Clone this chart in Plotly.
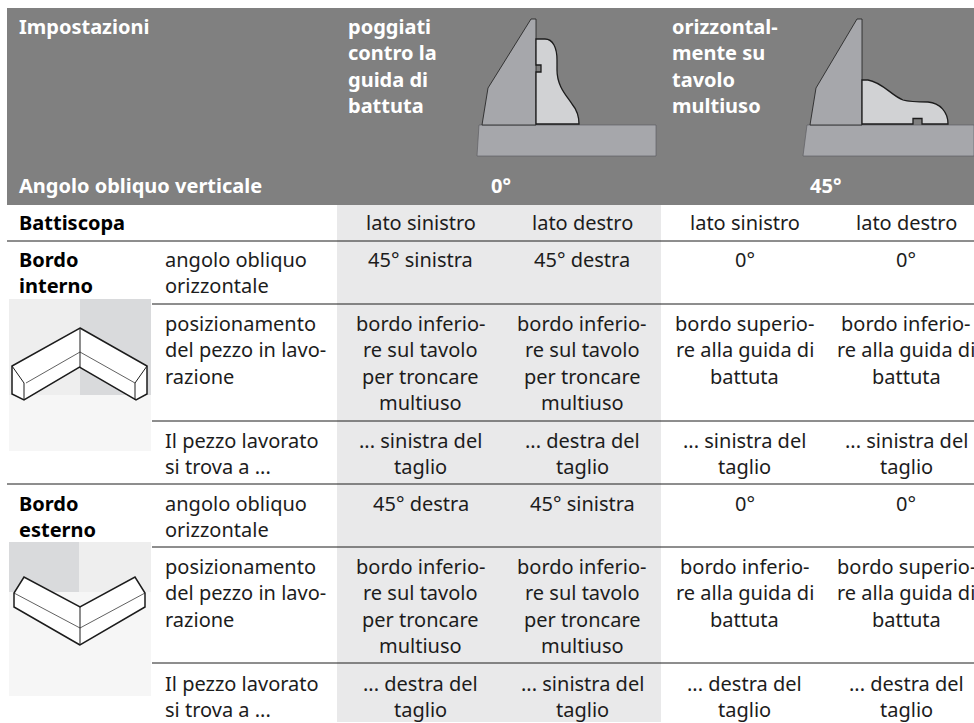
import plotly.graph_objects as go

FONT = "Noto Sans"
TXT = "#1c1c1c"
HEAD_BG = "#808080"
COL_BG = "#e9e9ea"
TOOL = "#a6a7ab"
PROFILE = "#d1d2d4"
LINE = "#1c1c1c"
SIZE = 20

# text content
header_left = [("Impostazioni", 18, 26), ("Angolo obliquo verticale", 18, 185)]
header_col1 = ["poggiati", "contro la", "guida di", "battuta"]
header_col2 = ["orizzontal-", "mente su", "tavolo", "multiuso"]
header_angles = [("0°", 501), ("45°", 825)]
col_centers = [420.5, 582, 744.5, 906]

rows = [
    (222, ["lato sinistro"], ["lato destro"], ["lato sinistro"], ["lato destro"]),
    (259, ["45° sinistra"], ["45° destra"], ["0°"], ["0°"]),
    (323, ["bordo inferio-", "re sul tavolo", "per troncare", "multiuso"],
          ["bordo inferio-", "re sul tavolo", "per troncare", "multiuso"],
          ["bordo superio-", "re alla guida di", "battuta"],
          ["bordo inferio-", "re alla guida di", "battuta"]),
    (440, ["... sinistra del", "taglio"], ["... destra del", "taglio"],
          ["... sinistra del", "taglio"], ["... sinistra del", "taglio"]),
    (503, ["45° destra"], ["45° sinistra"], ["0°"], ["0°"]),
    (566, ["bordo inferio-", "re sul tavolo", "per troncare", "multiuso"],
          ["bordo inferio-", "re sul tavolo", "per troncare", "multiuso"],
          ["bordo inferio-", "re alla guida di", "battuta"],
          ["bordo superio-", "re alla guida di", "battuta"]),
    (683, ["... destra del", "taglio"], ["... sinistra del", "taglio"],
          ["... destra del", "taglio"], ["... destra del", "taglio"]),
]
row_bold = [("Battiscopa", 222), ("Bordo", 259), ("interno", 285), ("Bordo", 503), ("esterno", 529)]
row_labels = [
    (259, ["angolo obliquo", "orizzontale"]),
    (323, ["posizionamento", "del pezzo in lavo-", "razione"]),
    (440, ["Il pezzo lavorato", "si trova a ..."]),
    (503, ["angolo obliquo", "orizzontale"]),
    (566, ["posizionamento", "del pezzo in lavo-", "razione"]),
    (683, ["Il pezzo lavorato", "si trova a ..."]),
]
full_rules = [241, 484]
part_rules = [304, 421, 547, 663]
LH = 26.5

fig = go.Figure()
shapes, ann = [], []


def rect(x0, y0, x1, y1, color):
    shapes.append(dict(type="rect", x0=x0, y0=y0, x1=x1, y1=y1,
                       fillcolor=color, line_width=0, layer="below"))


def path(d, fill=None, color=LINE, width=1.5):
    shapes.append(dict(type="path", path=d, fillcolor=fill or "rgba(0,0,0,0)",
                       line=dict(color=color, width=width), layer="above"))


def text(s, x, y, size=SIZE, bold=False, color=TXT, anchor="left"):
    ann.append(dict(x=x, y=y, text=f"<b>{s}</b>" if bold else s, showarrow=False,
                    xanchor=anchor, yanchor="middle", borderpad=0,
                    font=dict(family=FONT, size=size, color=color)))


rect(7, 8, 974, 205, HEAD_BG)
rect(337, 205, 661, 722, COL_BG)

for y in full_rules:
    shapes.append(dict(type="line", x0=7, x1=974, y0=y, y1=y, line=dict(color=LINE, width=1)))
for y in part_rules:
    shapes.append(dict(type="line", x0=152, x1=974, y0=y, y1=y, line=dict(color=LINE, width=1)))

# machine diagrams in the header
path("M479,125 L656,125 L656,156 L477,156 Z", TOOL, "#55565a", 0.6)
path("M531,19 L536,19 L536,125 L482,125 L488,88 Z", TOOL, LINE, 0.8)
path("M536,39 L545,39 C553,39 557,48 557,60 L557,70 C557,86 566,95 572,104 "
     "C577,110 579,116 579,124 L536,124 L536,72 L541,72 L541,65 L536,65 Z", PROFILE, LINE, 1.3)
path("M807,125 L974,125 L974,156 L803,156 Z", TOOL, "#55565a", 0.6)
path("M857,19 L862,19 L862,125 L810,125 L816,88 Z", TOOL, LINE, 0.8)
path("M862,80 L868,80 C882,82 892,96 903,100 C910,102 920,102 928,102 "
     "C940,103 948,112 948,124 L922,124 L922,118.5 L913,118.5 L913,124 L862,124 Z",
     PROFILE, LINE, 1.3)

# inner corner illustration
rect(9, 299, 80, 395, "#eeeeee")
rect(80, 299, 151, 395, "#d9dadc")
rect(9, 395, 151, 451, "#f6f6f6")
path("M80,328 L147,366 L147,394 L136,400 L79.5,367 L24,400 L12,394 L12,366 Z", "#ffffff", LINE, 1.5)
path("M80,328 L80,367 M12,366 L24,383 L24,400 M147,366 L135,383 L135,400", None, LINE, 1)
path("M80,352 L26,383 M80,352 L135,383", None, LINE, 0.7)

# outer corner illustration
rect(9, 542, 79, 592, "#d9dadc")
rect(79, 542, 151, 592, "#eeeeee")
rect(9, 592, 151, 696, "#f6f6f6")
path("M80,645 L14,607 L14,593 L24,577 L80,607 L135,577 L145,593 L145,607 Z", "#ffffff", LINE, 1.5)
path("M80,607 L80,645", None, LINE, 1)
path("M14,593 L80,628 L145,593", None, LINE, 0.7)

# header text
for s, x, y in header_left:
    text(s, x, y, SIZE, True, "#ffffff")
for i, s in enumerate(header_col1):
    text(s, 347, 26 + i * LH, SIZE, True, "#ffffff")
for i, s in enumerate(header_col2):
    text(s, 671, 26 + i * LH, SIZE, True, "#ffffff")
for s, x in header_angles:
    text(s, x, 185, SIZE, True, "#ffffff", "center")

# body text
for s, y in row_bold:
    text(s, 18, y, SIZE, True, "#000000")
for y0, lines in row_labels:
    for i, s in enumerate(lines):
        text(s, 164, y0 + i * LH)
for r in rows:
    for cx, lines in zip(col_centers, r[1:]):
        for i, s in enumerate(lines):
            text(s, cx, r[0] + i * LH, anchor="center")

fig.update_layout(
    width=974, height=723, margin=dict(l=0, r=0, t=0, b=0),
    paper_bgcolor="#ffffff", plot_bgcolor="#ffffff", showlegend=False,
    xaxis=dict(range=[0, 974], visible=False, fixedrange=True),
    yaxis=dict(range=[723, 0], visible=False, fixedrange=True),
    shapes=shapes, annotations=ann,
)
fig.write_html("out.html", config={"displayModeBar": False},
               post_script="document.body.style.margin='0';document.body.style.overflow='hidden';")
